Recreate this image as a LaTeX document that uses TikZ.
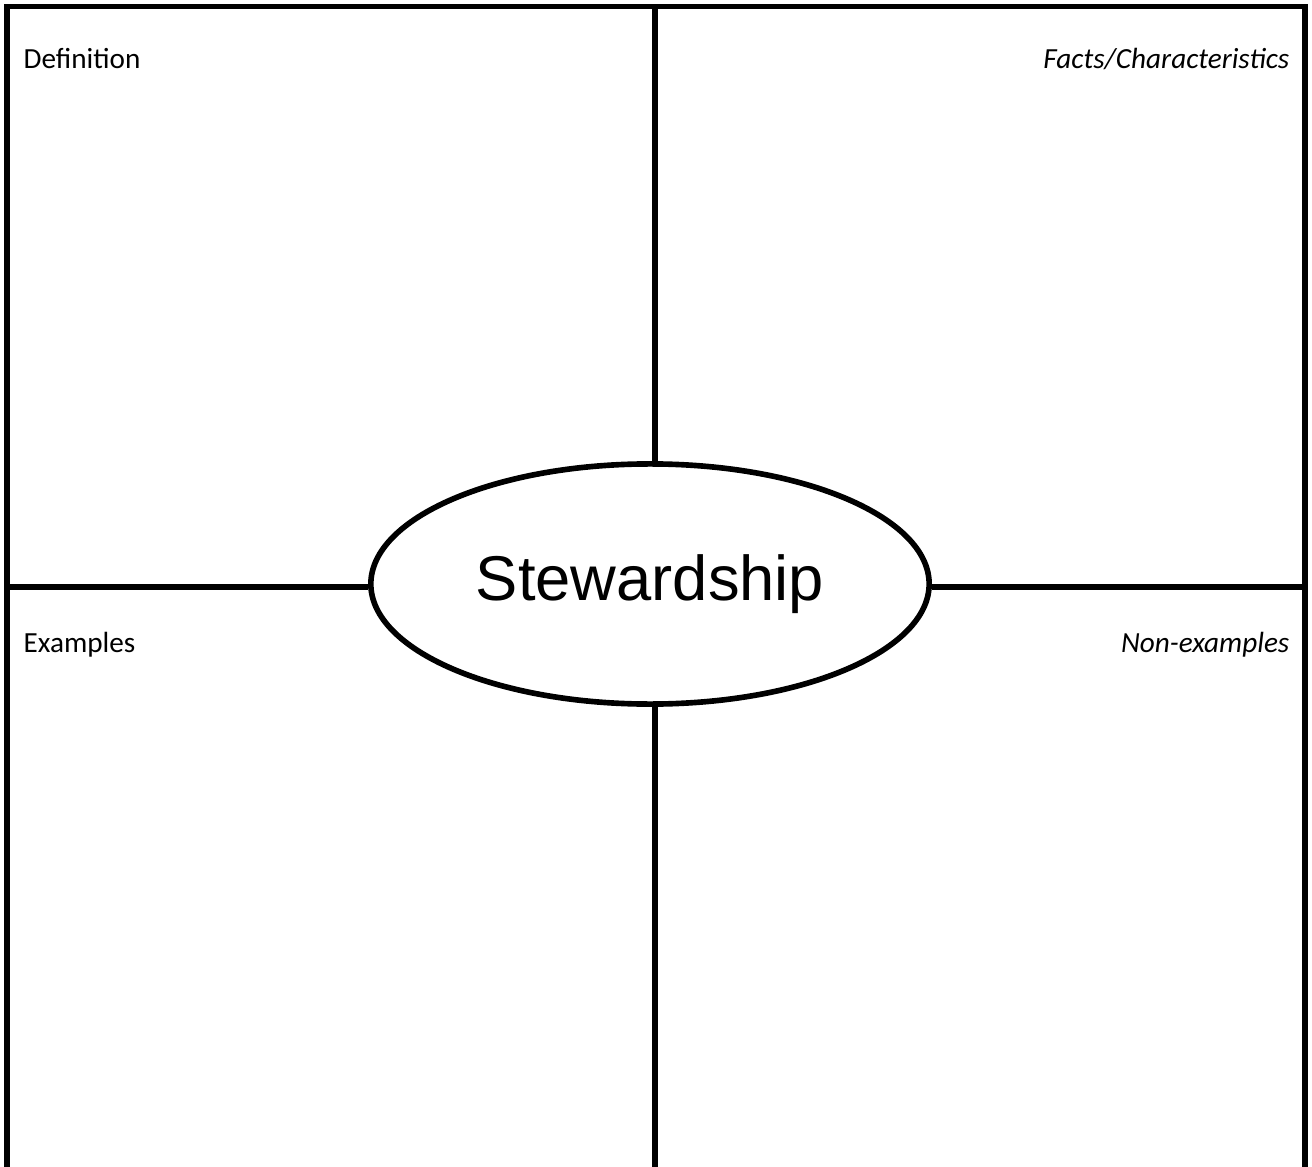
\documentclass[tikz,border=0pt]{standalone}
\usepackage{fontspec}
\setmainfont{Carlito}
\newfontfamily\termfont{Liberation Sans}
\usetikzlibrary{shapes.geometric}
\begin{document}
\begin{tikzpicture}[x=0.01cm, y=-0.01cm]
	\tikzset{frame/.style={line width=1.7pt},
		label/.style={font=\fontsize{8.3}{10}\selectfont, inner sep=0pt}}
	\useasboundingbox (0,0) rectangle (1312,1167);
	\coordinate (TL) at (7,6.5);
	\coordinate (TR) at (1305,6.5);
	\coordinate (BL) at (7,1167);
	\coordinate (BR) at (1305,1167);
	\coordinate (N) at (655,6.5);
	\coordinate (S) at (655,1167);
	\coordinate (W) at (7,587);
	\coordinate (E) at (1305,587);
	\draw [frame] (BL) -- (TL) -- (TR) -- (BR);
	\node [ellipse, draw, line width=1.6pt, minimum width=5.58cm, minimum height=2.4cm, inner sep=0pt,
		font=\termfont\fontsize{18}{20}\selectfont] (term) at (650,584) {Stewardship};
	\draw [frame] (N) -- (N |- term.north);
	\draw [frame] (S) -- (S |- term.south);
	\draw [frame] (W) -- (term.west |- W);
	\draw [frame] (E) -- (term.east |- E);
	\node [label, anchor=base west] (def) at (23,69) {Definition};
	\node [label, anchor=base east] (facts) at (1290,69) {\itshape Facts/Characteristics};
	\node [label, anchor=base west] (ex) at (23,652) {Examples};
	\node [label, anchor=base east] (nonex) at (1290,652) {\itshape Non-examples};
\end{tikzpicture}
\end{document}
